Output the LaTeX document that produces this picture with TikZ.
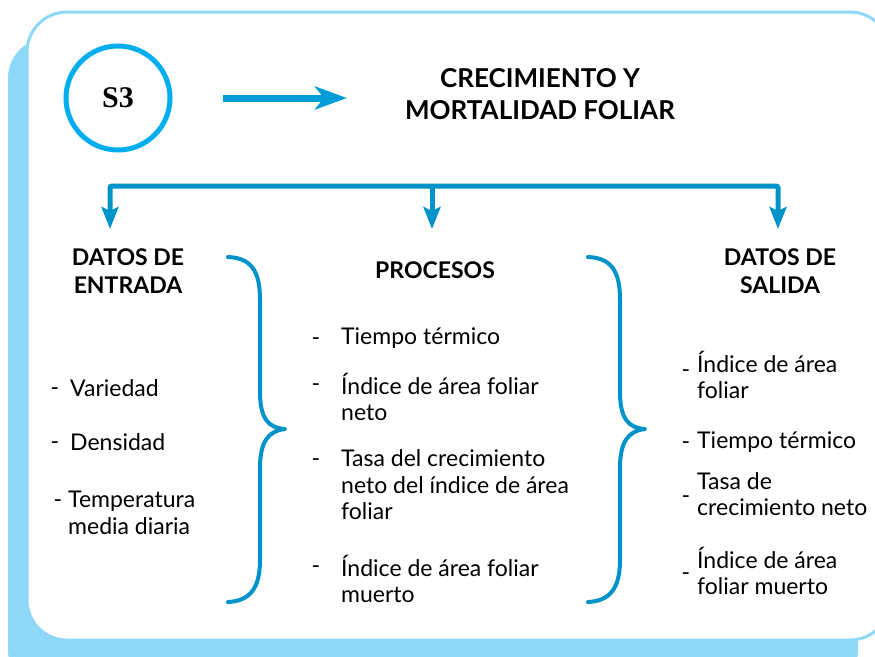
\documentclass[tikz,border=0pt]{standalone}
\usepackage{fontspec}
\setmainfont{Lato}
\newfontfamily\serifa{Liberation Serif}
\usetikzlibrary{positioning,arrows.meta}
\definecolor{marco}{HTML}{8ED8F7}
\definecolor{aro}{HTML}{00AEEF}
\definecolor{flecha}{HTML}{009DD9}
\definecolor{rama}{HTML}{0093C9}
\tikzset{
  titulo/.style={font=\fontsize{26}{32}\selectfont\bfseries, align=center, inner sep=0pt},
  cabeza/.style={font=\fontsize{23}{28}\selectfont\bfseries, align=center, inner sep=0pt},
  texto/.style={font=\fontsize{23}{26.5}\selectfont, align=left, anchor=west, inner sep=0pt},
  guion/.style={font=\fontsize{23}{26.5}\selectfont, inner sep=0pt},
  rama/.style={draw=rama, line width=5pt, -{Stealth[length=22pt,width=17pt,inset=4pt]}, rounded corners=2pt},
  llave/.style={draw=rama, line width=4pt, line cap=round, line join=round},
}
\begin{document}
\begin{tikzpicture}[x=1pt,y=-1pt]
\useasboundingbox (0,0) rectangle (875,656);
% marco
\fill[marco, rounded corners=40pt] (8,38) rectangle (858,690);
\draw[marco, fill=white, line width=3pt, rounded corners=40pt] (27,12) rectangle (890,640);
% cabecera
\node[circle, draw=aro, line width=5pt, minimum size=104pt, font=\serifa\fontsize{30}{30}\selectfont\bfseries] (s3) at (118,98) {S3};
\node[titulo] (titulo) at (540,94) {CRECIMIENTO Y\\MORTALIDAD FOLIAR};
\draw[flecha, line width=7pt, -{Stealth[length=32pt,width=23pt,inset=9pt]}, shorten <=50pt, shorten >=58pt] (s3.east) -- (s3.east -| titulo.west);
% ramas
\coordinate (barra) at (432,186);
\coordinate (tipE) at (110,229);
\coordinate (tipP) at (432,229);
\coordinate (tipS) at (778,229);
\draw[rama] (barra) -| (tipE);
\draw[rama] (barra) -- (tipP);
\draw[rama] (barra) -| (tipS);
\node[cabeza] (entrada) at (128,271) {DATOS DE\\ENTRADA};
\node[cabeza] (procesos) at (435,270) {PROCESOS};
\node[cabeza] (salida) at (780,271) {DATOS DE\\SALIDA};
% llaves
\foreach \dx in {0,360}
  \draw[llave, xshift=\dx] (228,257) .. controls (252,258) and (260,272) .. (260,300) -- (260,392)
    .. controls (260,418) and (268,428) .. (285,429)
    .. controls (268,431) and (260,442) .. (260,468) -- (260,560)
    .. controls (260,588) and (250,601) .. (228,602);
% entrada
\node[guion] (ge1) at (55,392) {-};
\node[texto] (e1) at (70,388) {Variedad};
\node[guion] (ge2) at (55,446) {-};
\node[texto] (e2) at (70,442) {Densidad};
\node[guion] (ge3) at (58,504) {-};
\node[texto] (e3) at (68,513) {Temperatura\\media diaria};
% procesos
\node[guion] (gp1) at (316,342) {-};
\node[texto] (p1) at (341,338) {Tiempo térmico};
\node[guion] (gp2) at (316,388) {-};
\node[texto] (p2) at (341,397) {Índice de área foliar\\neto};
\node[guion] (gp3) at (316,463) {-};
\node[texto] (p3) at (341,485) {Tasa del crecimiento\\neto del índice de área\\foliar};
\node[guion] (gp4) at (316,570) {-};
\node[texto] (p4) at (341,579) {Índice de área foliar\\muerto};
% salida
\node[guion] (gs1) at (686,374) {-};
\node[texto] (s1) at (697,375) {Índice de área\\foliar};
\node[guion] (gs2) at (686,446) {-};
\node[texto] (s2) at (697,442) {Tiempo térmico};
\node[guion] (gs3) at (686,500) {-};
\node[texto] (s3t) at (697,494) {Tasa de\\crecimiento neto};
\node[guion] (gs4) at (686,577) {-};
\node[texto] (s4) at (697,571) {Índice de área\\foliar muerto};
\end{tikzpicture}
\end{document}
